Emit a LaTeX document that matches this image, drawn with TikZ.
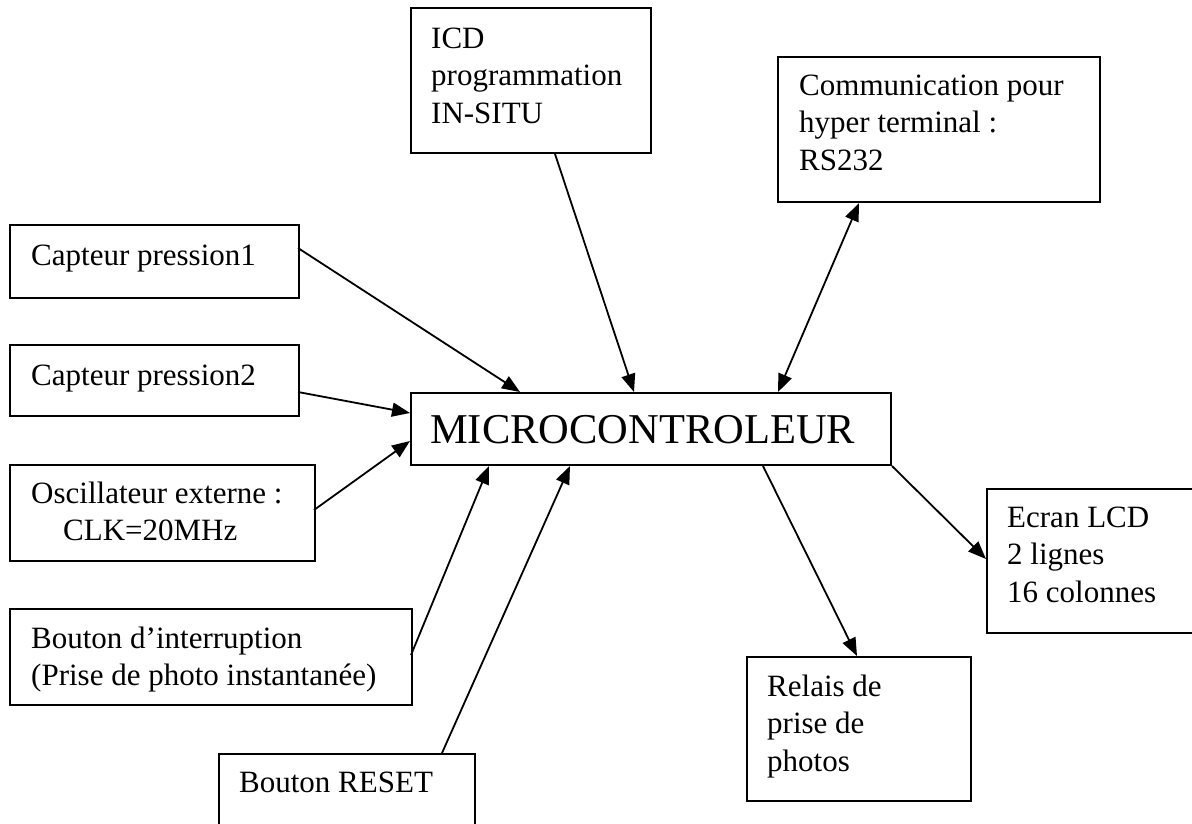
\documentclass[tikz,border=0pt]{standalone}
\usepackage{fontspec}
\setmainfont{Liberation Serif}
\usetikzlibrary{arrows.meta,calc}
\newcommand\mlines[1]{\begin{tabular}[t]{@{}l@{}}#1\end{tabular}}
\begin{document}
\begin{tikzpicture}[x=1pt,y=-1pt,
  box/.style={draw, line width=2pt, rectangle, inner sep=0pt, anchor=north west},
  txt/.style={inner sep=0pt, anchor=base west, font=\fontsize{31}{37.5}\selectfont},
  bigtxt/.style={inner sep=0pt, anchor=base west, font=\fontsize{42.5}{50}\selectfont},
  arr/.style={line width=1.8pt, -{Triangle[length=18pt,width=14pt]}},
  darr/.style={line width=1.8pt, {Triangle[length=18pt,width=14pt]}-{Triangle[length=18pt,width=14pt]}}]
\useasboundingbox (0,0) rectangle (1192,823);
\fill[white] (0,0) rectangle (1192,823);

% boxes
\node[box, minimum width=289pt, minimum height=73pt] (cap1) at (9,224) {};
\node[box, minimum width=289pt, minimum height=71pt] (cap2) at (9,344) {};
\node[box, minimum width=305pt, minimum height=96pt] (osc) at (9,464) {};
\node[box, minimum width=402pt, minimum height=96pt] (intr) at (9,608) {};
\node[box, minimum width=256pt, minimum height=120pt] (reset) at (218,753) {};
\node[box, minimum width=480pt, minimum height=72pt] (micro) at (410,392) {};
\node[box, minimum width=240pt, minimum height=145pt] (icd) at (410,7) {};
\node[box, minimum width=322pt, minimum height=145pt] (comm) at (777,56) {};
\node[box, minimum width=230pt, minimum height=144pt] (ecran) at (986,488) {};
\node[box, minimum width=224pt, minimum height=144pt] (relais) at (746,656) {};

% texts
\node[txt] (tcap1) at ($(cap1.north west)+(22,41)$) {Capteur pression1};
\node[txt] (tcap2) at ($(cap2.north west)+(22,41)$) {Capteur pression2};
\node[txt] (tosc) at ($(osc.north west)+(22,39)$) {\mlines{Oscillateur externe :\\\hspace*{32pt}CLK=20MHz}};
\node[txt] (tintr) at ($(intr.north west)+(22,40)$) {\mlines{Bouton d’interruption\\(Prise de photo instantanée)}};
\node[txt] (treset) at ($(reset.north west)+(21,39)$) {Bouton RESET};
\node[bigtxt] (tmicro) at ($(micro.north west)+(20,51)$) {MICROCONTROLEUR};
\node[txt] (ticd) at ($(icd.north west)+(21,41)$) {\mlines{ICD\\programmation\\IN-SITU}};
\node[txt] (tcomm) at ($(comm.north west)+(22,39)$) {\mlines{Communication pour\\hyper terminal :\\RS232}};
\node[txt] (tecran) at ($(ecran.north west)+(21,39)$) {\mlines{Ecran LCD\\2 lignes\\16 colonnes}};
\node[txt] (trelais) at ($(relais.north west)+(21,40)$) {\mlines{Relais de\\prise de\\photos}};

% connectors
\draw[arr] ($(cap1.north west)+(289,24)$) -- ($(micro.north west)+(110,0)$);
\draw[arr] ($(cap2.north west)+(289,48)$) -- ($(micro.north west)+(0,21)$);
\draw[arr] ($(osc.north west)+(305,46)$) -- ($(micro.north west)+(0,49)$);
\draw[arr] ($(intr.north west)+(402,47)$) -- ($(micro.south west)+(79,0)$);
\draw[arr] ($(reset.north west)+(224,0)$) -- ($(micro.south west)+(160,0)$);
\draw[arr] ($(icd.south west)+(145,0)$) -- ($(micro.north west)+(224,0)$);
\draw[darr] ($(comm.south west)+(82,0)$) -- ($(micro.north west)+(368,0)$);
\draw[arr] ($(micro.south west)+(353,0)$) -- ($(relais.north west)+(111,0)$);
\draw[arr] (micro.south east) -- ($(ecran.north west)+(0,71)$);
\end{tikzpicture}
\end{document}
